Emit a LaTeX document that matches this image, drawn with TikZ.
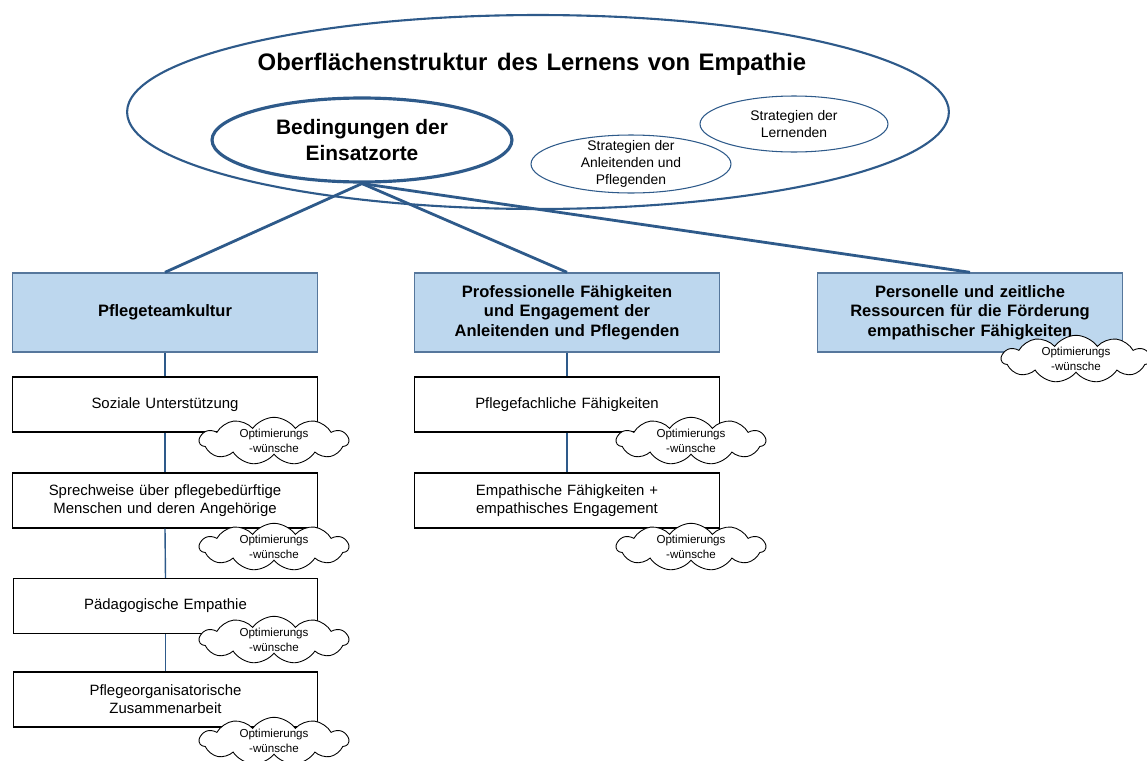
\documentclass[tikz,border=0pt]{standalone}
\usepackage{fontspec}
\setmainfont{Liberation Sans}
\usetikzlibrary{shapes.geometric,shapes.symbols}
\definecolor{linkblue}{HTML}{2E5A8A}
\definecolor{headfill}{HTML}{BDD7EE}
\definecolor{headdraw}{HTML}{56779C}
\begin{document}
\begin{tikzpicture}[x=0.02cm,y=-0.02cm,
  oval/.style={ellipse, draw=linkblue, fill=white, inner sep=0pt},
  headbox/.style={rectangle, draw=headdraw, fill=headfill, line width=0.8pt,
    minimum width=6.1cm, minimum height=1.58cm, align=center, text width=5.8cm,
    font=\fontsize{9.4}{11}\selectfont\bfseries},
  itembox/.style={rectangle, draw=black, fill=white, line width=0.6pt,
    minimum width=6.1cm, minimum height=1.1cm, align=center, text width=5.8cm,
    font=\fontsize{8.5}{10.2}\selectfont},
  wish/.style={cloud, cloud puffs=11, cloud puff arc=110, aspect=3.2,
    draw=black, fill=white, line width=0.5pt, minimum width=2.98cm,
    minimum height=0.94cm, inner sep=0pt, align=center,
    font=\fontsize{6.6}{8.5}\selectfont},
  link/.style={draw=linkblue, line width=1.6pt},
  stem/.style={draw=linkblue, line width=0.8pt}]
\useasboundingbox (0,0) rectangle (1147,761);

% surface structure with its inner ovals
\node[oval, line width=1.2pt, minimum width=16.44cm, minimum height=3.88cm] (surface) at (538,112) {};
\node[font=\fontsize{13.6}{16}\selectfont\bfseries] (title) at (532,64)
  {Oberflächenstruktur\hspace{0.4em}des\hspace{0.35em}Lernens\hspace{0.35em}von\hspace{0.35em}Empathie};
\node[oval, line width=1.8pt, minimum width=6cm, minimum height=1.68cm] (bed) at (362,140) {};
\node[align=center, font=\fontsize{11.9}{14.7}\selectfont\bfseries] (bedtext) at (bed.center) {Bedingungen der\\Einsatzorte};
\node[oval, line width=0.6pt, minimum width=3.76cm, minimum height=1.12cm] (lern) at (794,124) {};
\node[align=center, font=\fontsize{7.9}{9.6}\selectfont] (lerntext) at (lern.center) {Strategien der\\Lernenden};
\node[oval, line width=0.6pt, minimum width=4.0cm, minimum height=1.16cm] (anl) at (631,164) {};
\node[align=center, font=\fontsize{7.9}{9.6}\selectfont] (anltext) at (anl.center) {Strategien der\\Anleitenden und\\Pflegenden};

% three main categories
\node[headbox] (team) at (165,312.5) {Pflegeteamkultur};
\node[headbox] (prof) at (567,312.5) {Professionelle Fähigkeiten\\und Engagement der\\Anleitenden und Pflegenden};
\node[headbox] (res) at (970,312.5) {Personelle und zeitliche\\Ressourcen für die Förderung\\empathischer Fähigkeiten};

\draw[link] (bed.south) -- (team.north);
\draw[link] (bed.south) -- (prof.north);
\draw[link] (bed.south) -- (res.north);

% sub-categories of the first column
\node[itembox] (sozial) at (165,404.5) {Soziale Unterstützung};
\node[itembox] (sprech) at (165,500.5) {Sprechweise über pflegebedürftige\\Menschen und deren Angehörige};
\node[itembox] (paed) at (165.5,606) {Pädagogische Empathie};
\node[itembox] (orga) at (165.5,699.5) {Pflegeorganisatorische\\Zusammenarbeit};

% sub-categories of the second column
\node[itembox] (fach) at (567,404.5) {Pflegefachliche Fähigkeiten};
\node[itembox] (emp) at (567,500.5) {Empathische Fähigkeiten +\\empathisches Engagement};

\draw[stem] (team.south) -- (sozial.north);
\draw[stem] (sozial.south) -- (sprech.north);
\draw[stem] (sprech.south) -- (paed.north);
\draw[stem] (paed.south) -- (orga.north);
\draw[stem] (prof.south) -- (fach.north);
\draw[stem] (fach.south) -- (emp.north);

% improvement wishes
\node[wish] (w1) at (274,441) {Optimierungs\\-wünsche};
\node[wish] (w2) at (274,547) {Optimierungs\\-wünsche};
\node[wish] (w3) at (274,640) {Optimierungs\\-wünsche};
\node[wish] (w4) at (274,741) {Optimierungs\\-wünsche};
\node[wish] (w5) at (691,441) {Optimierungs\\-wünsche};
\node[wish] (w6) at (691,547) {Optimierungs\\-wünsche};
\node[wish] (w7) at (1076,359) {Optimierungs\\-wünsche};
\end{tikzpicture}
\end{document}
